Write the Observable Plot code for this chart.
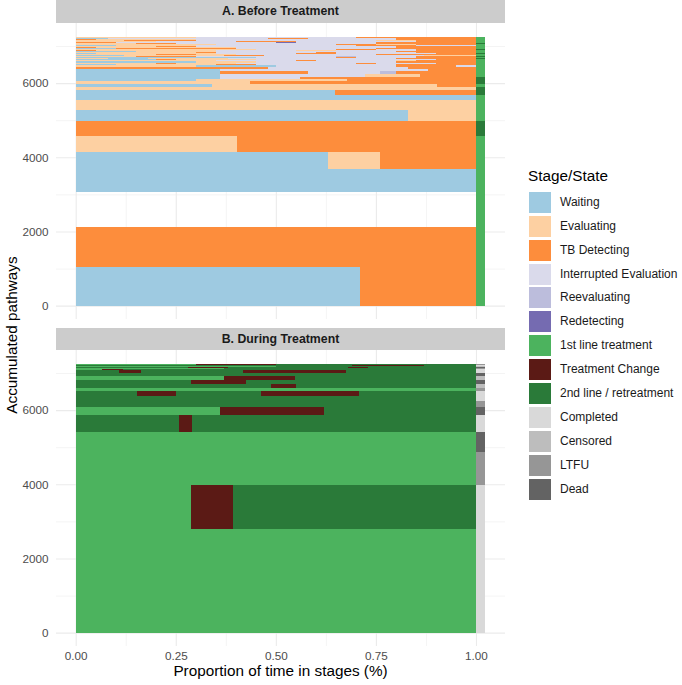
<!DOCTYPE html>
<html>
<head>
<meta charset="utf-8">
<script src="https://cdn.jsdelivr.net/npm/d3@7"></script>
<script src="https://cdn.jsdelivr.net/npm/@observablehq/plot@0.6"></script>
<style>
  body { margin: 0; background: #fff; }
  #wrap { position: relative; width: 682px; height: 685px; font-family: "Liberation Sans", Arial, sans-serif; color: #1a1a1a; }
  .strip { position: absolute; left: 56px; width: 449px; background: #cccccc; font-weight: bold; font-size: 12.3px; color: #1a1a1a; text-align: center; }
  .legkey { position: absolute; left: 529px; width: 22px; height: 21px; }
  .leglab { position: absolute; left: 560px; font-size: 12px; color: #1a1a1a; white-space: nowrap; }
</style>
</head>
<body>
<div id="wrap"></div>
<script>
// ---- stages / states ----
const stageNames = ["Waiting","Evaluating","TB Detecting","Interrupted Evaluation","Reevaluating","Redetecting","1st line treatment","Treatment Change","2nd line / retreatment","Completed","Censored","LTFU","Dead"];
const stageCodes = ["W","E","T","I","R","D","1L","TC","2L","C","Cen","L","X"];
const stageColors = ["#9ECAE1","#FDD0A2","#FD8D3C","#DADAEB","#BCBDDC","#756BB1","#4CB35E","#5B1A15","#2A7A39","#D9D9D9","#BDBDBD","#969696","#636363"];

// ---- axis ticks ----
const xTicks = [0, 0.25, 0.5, 0.75, 1];
const xMinor = [0.125, 0.375, 0.625, 0.875];
const yTicks = [0, 2000, 4000, 6000];
const yMinor = [1000, 3000, 5000, 7000];

// ---- A. Before Treatment (pathways stacked from bottom) ----
const beforeCounts = [1055,1058,940,626,456,430,402,296,290,135,130,80,90,70,60,50,75,70,75,45,45,
  40,35,35,30,32,28,30,26,28,25,26,24,27,24,25,22,24,22,23,21,22,20,21,19,20,18,18,16,16,15,16,15,15];
const beforeStages = [
  ["W","T"],["T"],[],["W"],["W","E","T"],["E","T"],["T"],["W","E"],["E"],["W"],["W","T"],["E"],
  ["W","E","T"],["E","T"],["W","E","T"],["W","I","T"],["W","I","E","T"],["W","T","I","R","T"],["W","I","T"],
  ["T","I","T"],["E","W","I","T","I"],
  ["W","E","T","I","T"],["E","T","E","I","T","I","T"],["W","E","I","T"],["E","I","T","I","E","T"],["W","T","E","I","T"],
  ["E","W","E","I","T"],["W","I","T","I","T"],["E","T","I","R","I","T"],["W","E","T","I","E"],["E","T","E","I","T"],
  ["W","E","I","T","I","T"],["E","T","I","T","I","T"],["W","E","I","T"],["T","E","I","E","I","T"],["E","I","T","I","T"],
  ["W","T","I","T"],["E","W","I","T","E"],["T","E","I","T"],["E","T","I","T"],["W","E","I","T","I"],
  ["E","I","T","E","T"],["W","E","I","T","I","T"],["E","T","I","T"],["T","I","D","I","T"],["E","I","T","I","T"],
  ["W","E","T","I","T"],["E","T","I","E","T"],["T","E","I","T"],["E","T","I","T"],["W","I","T","I","T"],
  ["W","T","E","I","T"],["E","I","T"],["T","E","I","T"]
];
const beforeShares = [
  [.71,.29],[1],[],[1],[.631,.13,.239],[.404,.596],[1],[.83,.17],[1],[1],[.648,.352],[1],
  [.34,.562,.098],[.436,.564],[.3,.377,.323],[.36,.2,.44],[.36,.363,.137,.14],[.36,.22,.18,.04,.2],[.36,.52,.12],
  [.48,.35,.17],[.3,.2,.3,.15,.05],
  [.1,.25,.1,.35,.2],[.2,.05,.15,.3,.05,.15,.1],[.3,.15,.35,.2],[.35,.2,.05,.2,.05,.15],[.2,.05,.2,.45,.1],
  [.08,.1,.2,.42,.2],[.45,.2,.05,.15,.15],[.15,.15,.35,.05,.15,.15],[.12,.25,.1,.4,.13],[.2,.1,.1,.35,.25],
  [.05,.3,.2,.1,.25,.1],[.3,.05,.25,.05,.2,.15],[.15,.2,.45,.2],[.05,.3,.2,.1,.2,.15],[.45,.2,.1,.1,.15],
  [.1,.3,.35,.25],[.15,.15,.4,.2,.1],[.05,.35,.4,.2],[.2,.1,.5,.2],[.1,.2,.4,.15,.15],
  [.35,.3,.1,.1,.15],[.05,.3,.3,.05,.15,.15],[.15,.1,.5,.25],[.1,.4,.05,.2,.25],[.2,.2,.15,.3,.15],
  [.05,.25,.1,.45,.15],[.12,.18,.45,.1,.15],[.05,.25,.5,.2],[.4,.2,.3,.1],[.08,.4,.1,.22,.2],
  [.05,.1,.3,.35,.2],[.3,.4,.3],[.06,.3,.3,.34]
];
const beforeOutcomes = ["1L","1L","1L","1L","1L","1L","2L","1L","1L","1L","2L","2L",
  "1L","2L","2L","2L","1L","1L","1L","1L","1L",
  "1L","1L","1L","1L","1L","2L","1L","2L","1L","1L","2L","1L","1L","1L","2L","1L","2L",
  "1L","1L","1L","1L","1L","2L","1L","1L","1L","1L","1L","2L","1L","1L","1L","1L"];

// ---- B. During Treatment ----
const duringCounts = [2785,1193,900,540,439,235,150,137,135,92,108,110,85,90,72,35,30,28,25,25,22,14];
const duringStages = [
  ["1L"],["1L","TC","2L"],["1L"],["1L"],["2L","TC","2L"],["1L","TC","2L"],["2L"],["2L"],
  ["2L","TC","2L","TC","2L"],["1L"],["2L","TC","2L"],["2L","TC","2L"],["1L","TC","2L"],["2L"],
  ["2L","TC","2L","TC","2L"],["1L","TC","2L"],["1L","2L"],["2L","TC","2L","TC","2L"],["1L","2L"],
  ["2L","TC","2L"],["1L","TC","2L"],["2L","TC","2L"]
];
const duringShares = [
  [1],[.287,.105,.608],[1],[1],[.257,.033,.71],[.36,.26,.38],[1],[1],
  [.152,.098,.214,.244,.292],[1],[.487,.063,.45],[.288,.137,.575],[.371,.177,.452],[1],
  [.108,.055,.255,.257,.325],[.065,.054,.881],[.37,.63],[.28,.1,.3,.05,.27],[.5,.5],
  [.69,.18,.13],[.3,.2,.5],[.85,.08,.07]
];
const duringOutcomes = ["C","C","L","X","C","X","L","C","C","L","Cen","X","Cen","X","C","C","L","X","Cen","C","L","X"];

// ---- build rectangles ----
const nameOf = Object.fromEntries(stageCodes.map((c, i) => [c, stageNames[i]]));
function build(counts, stages, shares, outcomes) {
  const rects = [];
  let y = 0;
  counts.forEach((n, i) => {
    let x = 0;
    stages[i].forEach((code, j) => {
      const w = shares[i][j];
      rects.push({x1: x, x2: x + w, y1: y, y2: y + n, stage: nameOf[code]});
      x += w;
    });
    rects.push({x1: 1, x2: 1.0225, y1: y, y2: y + n, stage: nameOf[outcomes[i]]});
    y += n;
  });
  return rects;
}

function panel(rects, withX) {
  const marks = [
    Plot.ruleY(yMinor, {stroke: "#ebebeb", strokeWidth: 0.55}),
    Plot.ruleY(yTicks, {stroke: "#ebebeb", strokeWidth: 1.1}),
    Plot.ruleX(xMinor, {stroke: "#ebebeb", strokeWidth: 0.55}),
    Plot.ruleX(xTicks, {stroke: "#ebebeb", strokeWidth: 1.1}),
    Plot.rect(rects, {x1: "x1", x2: "x2", y1: "y1", y2: "y2", fill: "stage", shapeRendering: "crispEdges"}),
    Plot.axisY(yTicks, {tickSize: 0, tickPadding: 8, label: null, tickFormat: d3.format("d"), fill: "#4d4d4d"})
  ];
  if (withX) marks.push(Plot.axisX(xTicks, {tickSize: 0, tickPadding: 5, label: null, tickFormat: d3.format(".2f"), fill: "#4d4d4d", fontSize: 11.7}));
  else marks.push(Plot.axisX([], {label: null}));
  return Plot.plot({
    width: 520,
    height: withX ? 322 : 296,
    marginLeft: 56, marginRight: 15, marginTop: 0, marginBottom: withX ? 26 : 0,
    x: {domain: [-0.0492, 1.0725]},
    y: {domain: [-360, 7620]},
    color: {domain: stageNames, range: stageColors},
    style: {fontFamily: '"Liberation Sans", Arial, sans-serif', fontSize: "11.7px", color: "#4d4d4d", background: "transparent", overflow: "visible"},
    marks
  });
}

const wrap = document.getElementById("wrap");
function addDiv(cls, css, text) {
  const d = document.createElement("div");
  if (cls) d.className = cls;
  d.style.cssText = css;
  if (text != null) d.textContent = text;
  wrap.appendChild(d);
  return d;
}

addDiv("strip", "top:0px;height:22.5px;line-height:23px;", "A. Before Treatment");
const pA = panel(build(beforeCounts, beforeStages, beforeShares, beforeOutcomes), false);
pA.style.cssText += "position:absolute;left:0px;top:23px;";
wrap.appendChild(pA);

addDiv("strip", "top:328px;height:22px;line-height:22px;", "B. During Treatment");
const pB = panel(build(duringCounts, duringStages, duringShares, duringOutcomes), true);
pB.style.cssText += "position:absolute;left:0px;top:350px;";
wrap.appendChild(pB);

// axis titles
addDiv(null, "position:absolute;left:56px;width:449px;top:662.5px;line-height:15.3px;text-align:center;font-size:15.3px;color:#000;", "Proportion of time in stages (%)");
addDiv(null, "position:absolute;left:-88px;top:326px;width:200px;text-align:center;font-size:15.3px;color:#000;transform:rotate(-90deg);white-space:nowrap;", "Accumulated pathways");

// legend
addDiv(null, "position:absolute;left:528px;top:167px;font-size:15.3px;color:#000;", "Stage/State");
stageNames.forEach((name, i) => {
  const top = 191.7 + i * 23.94;
  addDiv("legkey", `top:${top}px;background:${stageColors[i]};`);
  addDiv("leglab", `top:${top + 3}px;`, name);
});
</script>
</body>
</html>
